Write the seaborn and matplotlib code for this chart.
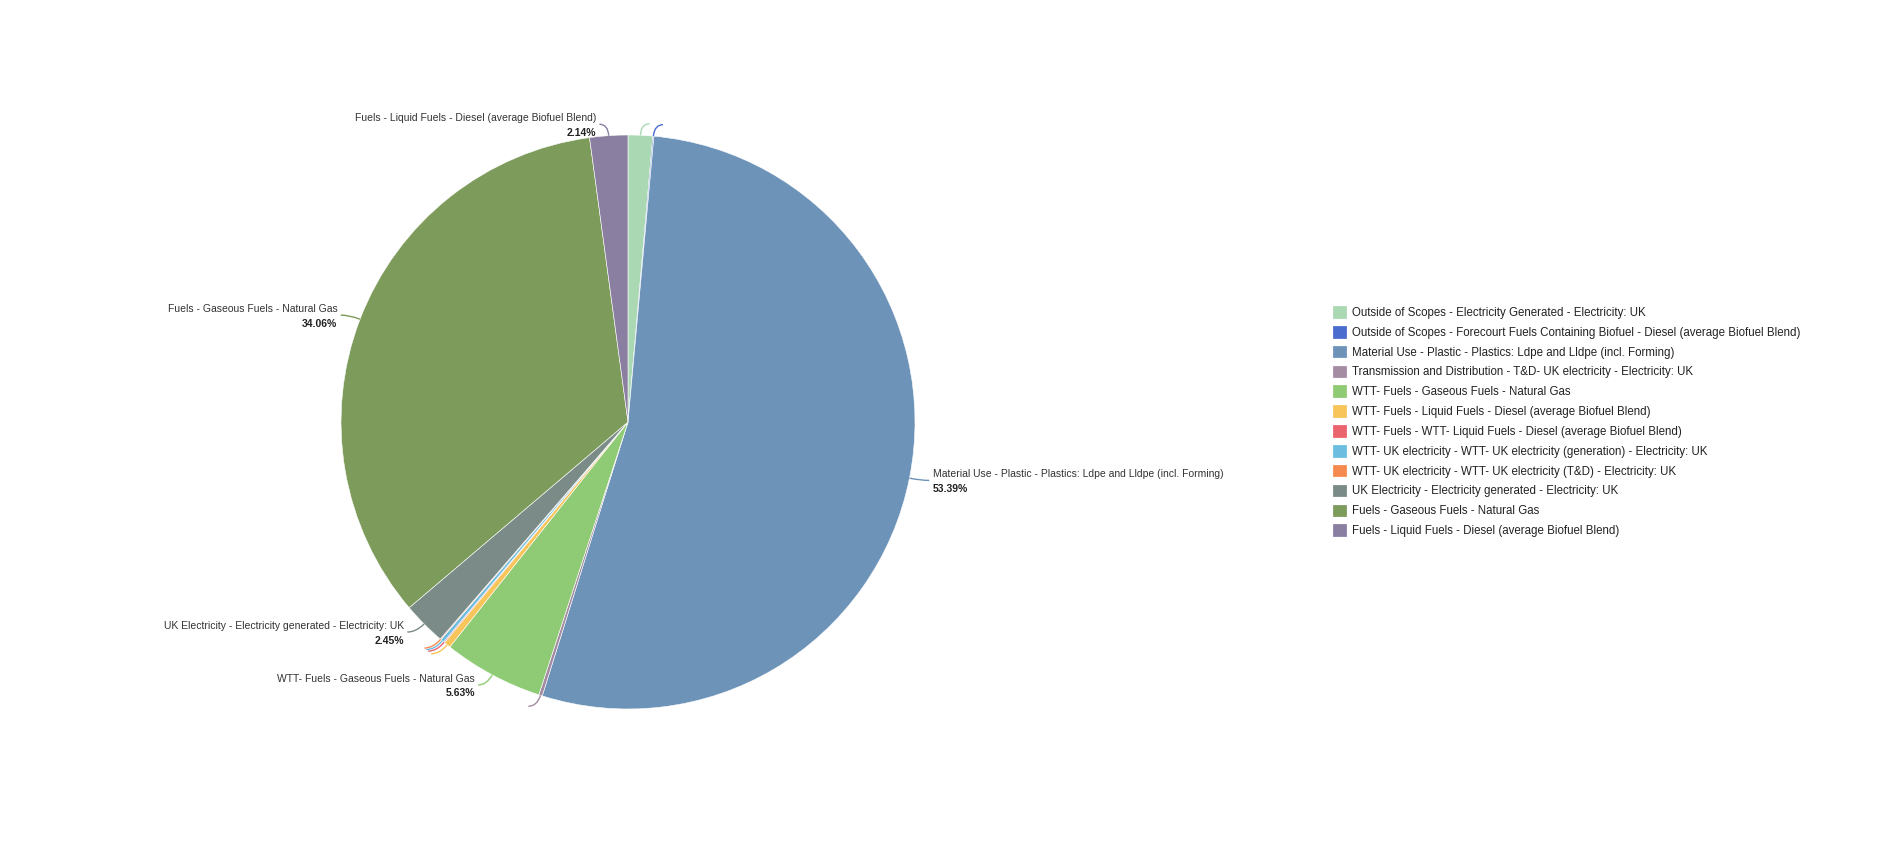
import matplotlib
matplotlib.use("Agg")
import matplotlib.pyplot as plt
import seaborn as sns
import numpy as np
from matplotlib.patches import Patch, PathPatch
from matplotlib.path import Path

sns.set_theme(style="white")
plt.rcParams["font.family"] = ["Liberation Sans", "DejaVu Sans"]

# slice names, in drawing order (clockwise from 12 o'clock)
names = [
    "Outside of Scopes - Electricity Generated - Electricity: UK",
    "Outside of Scopes - Forecourt Fuels Containing Biofuel - Diesel (average Biofuel Blend)",
    "Material Use - Plastic - Plastics: Ldpe and Lldpe (incl. Forming)",
    "Transmission and Distribution - T&D- UK electricity - Electricity: UK",
    "WTT- Fuels - Gaseous Fuels - Natural Gas",
    "WTT- Fuels - Liquid Fuels - Diesel (average Biofuel Blend)",
    "WTT- Fuels - WTT- Liquid Fuels - Diesel (average Biofuel Blend)",
    "WTT- UK electricity - WTT- UK electricity (generation) - Electricity: UK",
    "WTT- UK electricity - WTT- UK electricity (T&D) - Electricity: UK",
    "UK Electricity - Electricity generated - Electricity: UK",
    "Fuels - Gaseous Fuels - Natural Gas",
    "Fuels - Liquid Fuels - Diesel (average Biofuel Blend)",
]
# share of emissions in percent (small ones)
shares = [1.38, 0.06, 53.39, 0.20, 5.63, 0.38, 0.06, 0.20, 0.05, 2.45, 34.06, 2.14]
colors = ["#a9d8b2", "#4a6ccf", "#6d93b8", "#a48ca2", "#8fcb74", "#f7c55a",
          "#ea6470", "#6dbde0", "#f58a4f", "#7b8c88", "#7d9c5c", "#8b7fa1"]
label_min = 2.0  # only slices above this get a text label

fig = plt.figure(figsize=(19, 8.5), dpi=100)
# pie centre at (628, 422) px, radius 287 px
side = 3 * 287
ax = fig.add_axes([(628 - side / 2) / 1900, (428 - side / 2) / 850, side / 1900, side / 850])

wedges, _ = ax.pie(shares, colors=colors, startangle=90, counterclock=False,
                   wedgeprops=dict(edgecolor="white", linewidth=0.4))
ax.set_xlim(-1.5, 1.5)
ax.set_ylim(-1.5, 1.5)
ax.axis("off")

total = sum(shares)
for w, name, v, c in zip(wedges, names, shares, colors):
    mid = np.deg2rad((w.theta1 + w.theta2) / 2)
    dx, dy = np.cos(mid), np.sin(mid)
    side_sign = 1 if dx >= 0 else -1
    p0 = (1.0 * dx, 1.0 * dy)
    p1 = (1.04 * dx, 1.04 * dy)
    p2 = (p1[0] + side_sign * 0.03, p1[1])
    path = Path([p0, p1, p2], [Path.MOVETO, Path.CURVE3, Path.CURVE3])
    ax.add_patch(PathPatch(path, fill=False, edgecolor=c, linewidth=1.0))
    if v / total * 100 >= label_min:
        ha = "left" if side_sign > 0 else "right"
        tx = p2[0] + side_sign * 0.012
        ax.text(tx, p2[1] + 0.005, name, ha=ha, va="bottom", fontsize=7.5, color="#333333")
        ax.text(tx, p2[1] - 0.012, f"{v / total * 100:.2f}%", ha=ha, va="top",
                fontsize=7.5, fontweight="bold", color="#222222")

handles = [Patch(facecolor=c, edgecolor=c, linewidth=2, joinstyle="round") for c in colors]
fig.legend(handles, names, loc="center left", bbox_to_anchor=(1328 / 1900, 428 / 850),
           frameon=False, fontsize=8.3, handlelength=1.0, handleheight=0.9,
           handletextpad=0.6, labelspacing=0.68, borderpad=0, labelcolor="#222222")

fig.savefig("out.png", dpi=100, facecolor="white")
